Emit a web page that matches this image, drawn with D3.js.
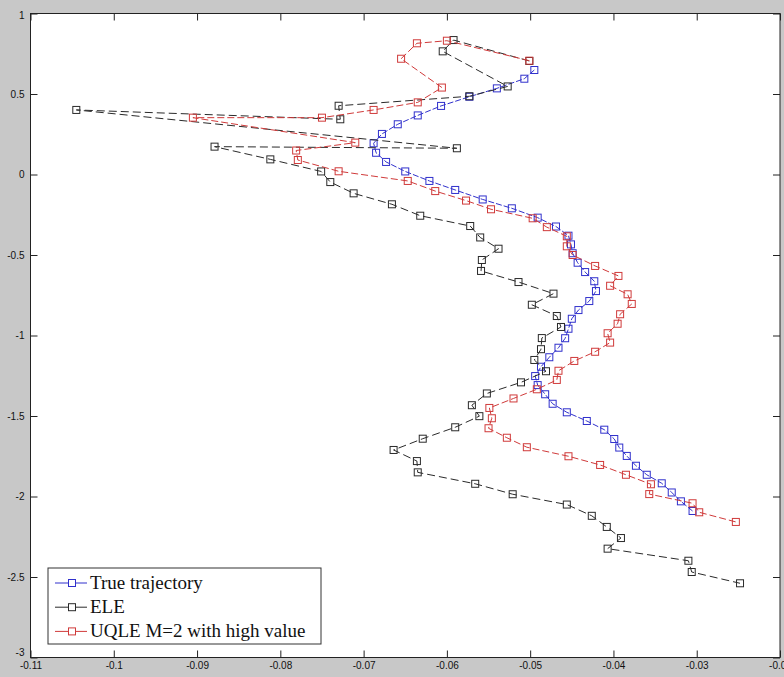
<!DOCTYPE html>
<html>
<head>
<meta charset="utf-8">
<script src="https://cdn.jsdelivr.net/npm/d3@7/dist/d3.min.js"></script>
<style>
  html, body { margin: 0; padding: 0; background: #c8c8c8; }
  svg { display: block; }
</style>
</head>
<body>
<svg id="chart" width="784" height="677"></svg>
<script>
// Axis ticks
const xTicks = [-0.11, -0.1, -0.09, -0.08, -0.07, -0.06, -0.05, -0.04, -0.03, -0.02];
const yTicks = [-3, -2.5, -2, -1.5, -1, -0.5, 0, 0.5, 1];

// Series names (legend order)
const seriesNames = ["True trajectory", "ELE", "UQLE M=2 with high value"];

// True trajectory
const trueX = [-0.0495, -0.0507, -0.0540, -0.0573, -0.0607, -0.0635, -0.0659, -0.0678, -0.0688, -0.0685,
  -0.0673, -0.0650, -0.0621, -0.0590, -0.0557, -0.0522, -0.0491, -0.0469, -0.0454, -0.0451,
  -0.0449, -0.0443, -0.0434, -0.0423, -0.0421, -0.0429, -0.0442, -0.0450, -0.0454, -0.0458,
  -0.0466, -0.0477, -0.0487, -0.0494, -0.0491, -0.0482, -0.0473, -0.0456, -0.0432, -0.0411,
  -0.0399, -0.0393, -0.0384, -0.0373, -0.0360, -0.0342, -0.0330, -0.0319, -0.0305];
const trueY = [0.649, 0.595, 0.535, 0.483, 0.426, 0.367, 0.312, 0.252, 0.194, 0.135,
  0.078, 0.019, -0.040, -0.096, -0.155, -0.210, -0.268, -0.323, -0.380, -0.434,
  -0.489, -0.548, -0.606, -0.663, -0.724, -0.786, -0.842, -0.896, -0.958, -1.017,
  -1.076, -1.135, -1.194, -1.252, -1.308, -1.365, -1.424, -1.477, -1.531, -1.585,
  -1.643, -1.696, -1.748, -1.809, -1.865, -1.918, -1.975, -2.030, -2.090];

// ELE estimate
const eleX = [-0.0501, -0.0592, -0.0605, -0.0527, -0.0573, -0.0730, -0.0728, -0.1045, -0.0588, -0.0879,
  -0.0812, -0.0751, -0.0740, -0.0712, -0.0666, -0.0632, -0.0572, -0.0560, -0.0538, -0.0558,
  -0.0559, -0.0514, -0.0472, -0.0498, -0.0468, -0.0463, -0.0486, -0.0487, -0.0495, -0.0481,
  -0.0511, -0.0552, -0.0570, -0.0561, -0.0590, -0.0629, -0.0664, -0.0636, -0.0635, -0.0566,
  -0.0521, -0.0456, -0.0426, -0.0408, -0.0391, -0.0407, -0.0310, -0.0306, -0.0248];
const eleY = [0.705, 0.835, 0.765, 0.547, 0.486, 0.427, 0.343, 0.401, 0.163, 0.173,
  0.094, 0.019, -0.047, -0.117, -0.185, -0.256, -0.320, -0.391, -0.461, -0.531,
  -0.599, -0.668, -0.740, -0.809, -0.879, -0.947, -1.016, -1.085, -1.152, -1.222,
  -1.291, -1.360, -1.433, -1.501, -1.570, -1.641, -1.711, -1.780, -1.850, -1.921,
  -1.986, -2.050, -2.120, -2.189, -2.258, -2.324, -2.399, -2.469, -2.539];

// UQLE M=2 estimate
const uqleX = [-0.0501, -0.0600, -0.0636, -0.0655, -0.0606, -0.0635, -0.0688, -0.0750, -0.0905, -0.0710,
  -0.0781, -0.0779, -0.0730, -0.0647, -0.0614, -0.0577, -0.0547, -0.0497, -0.0480, -0.0456,
  -0.0456, -0.0449, -0.0422, -0.0394, -0.0404, -0.0383, -0.0378, -0.0392, -0.0395, -0.0407,
  -0.0404, -0.0422, -0.0447, -0.0466, -0.0468, -0.0492, -0.0520, -0.0549, -0.0546, -0.0550,
  -0.0528, -0.0504, -0.0454, -0.0416, -0.0385, -0.0355, -0.0357, -0.0305, -0.0297, -0.0253];
const uqleY = [0.707, 0.831, 0.815, 0.719, 0.540, 0.448, 0.401, 0.353, 0.353, 0.198,
  0.149, 0.090, 0.020, -0.040, -0.103, -0.162, -0.216, -0.272, -0.327, -0.384,
  -0.446, -0.500, -0.568, -0.630, -0.691, -0.744, -0.804, -0.868, -0.927, -0.986,
  -1.044, -1.101, -1.158, -1.219, -1.276, -1.334, -1.391, -1.450, -1.514, -1.576,
  -1.635, -1.694, -1.750, -1.804, -1.865, -1.924, -1.985, -2.042, -2.098, -2.158];

const W = 784, H = 677;
const plot = { left: 30.5, right: 780, top: 13.5, bottom: 657.5 };

const svg = d3.select("#chart");

const x = d3.scaleLinear().domain([-0.11, -0.02]).range([plot.left, plot.right]);
const y = d3.scaleLinear().domain([-3, 1]).range([plot.bottom, plot.top]);

// figure background and white axes area
svg.append("rect").attr("width", W).attr("height", H).attr("fill", "#c8c8c8");
svg.append("rect")
  .attr("x", plot.left).attr("y", plot.top)
  .attr("width", plot.right - plot.left).attr("height", plot.bottom - plot.top)
  .attr("fill", "#ffffff");

const fmt = d => String(+d.toFixed(2));
const tickLen = 7;

function styleAxis(g) {
  g.select(".domain").remove();
  g.selectAll(".tick line").attr("stroke", "#222").attr("stroke-width", 1);
  g.selectAll(".tick text")
    .attr("fill", "#111")
    .style("font-family", "'Liberation Sans', Arial, sans-serif")
    .style("font-size", "10px");
}

// bottom axis with labels, ticks pointing inward
svg.append("g")
  .attr("transform", `translate(0,${plot.bottom})`)
  .call(d3.axisBottom(x).tickValues(xTicks).tickFormat(fmt)
    .tickSizeInner(-tickLen).tickSizeOuter(0).tickPadding(4))
  .call(styleAxis);

// top axis: ticks only
svg.append("g")
  .attr("transform", `translate(0,${plot.top})`)
  .call(d3.axisTop(x).tickValues(xTicks).tickFormat("")
    .tickSizeInner(-tickLen).tickSizeOuter(0))
  .call(styleAxis);

// left axis with labels; the lowest label sits a little higher so it clears the x labels
svg.append("g")
  .attr("transform", `translate(${plot.left},0)`)
  .call(d3.axisLeft(y).tickValues(yTicks).tickFormat(fmt)
    .tickSizeInner(-tickLen).tickSizeOuter(0).tickPadding(6))
  .call(styleAxis)
  .call(g => g.selectAll(".tick text")
    .filter(d => d === yTicks[0])
    .attr("y", -5))
  .call(g => g.selectAll(".tick text")
    .filter(d => d === yTicks[yTicks.length - 1])
    .attr("y", 2));

// right axis: ticks only
svg.append("g")
  .attr("transform", `translate(${plot.right},0)`)
  .call(d3.axisRight(y).tickValues(yTicks).tickFormat("")
    .tickSizeInner(-tickLen).tickSizeOuter(0))
  .call(styleAxis);

// axes box
svg.append("rect")
  .attr("x", plot.left).attr("y", plot.top)
  .attr("width", plot.right - plot.left).attr("height", plot.bottom - plot.top)
  .attr("fill", "none").attr("stroke", "#222").attr("stroke-width", 1);

const series = [
  { name: seriesNames[0], xs: trueX, ys: trueY, color: "#3030cc", dash: "6,2" },
  { name: seriesNames[1], xs: eleX,  ys: eleY,  color: "#2a2a2a", dash: "8,4" },
  { name: seriesNames[2], xs: uqleX, ys: uqleY, color: "#d03a3a", dash: "7,3" }
];

const line = d3.line().x(d => x(d[0])).y(d => y(d[1]));
const mk = 7;

const gData = svg.append("g");
series.forEach(s => {
  const pts = s.xs.map((v, i) => [v, s.ys[i]]);
  const g = gData.append("g");
  g.append("path")
    .datum(pts)
    .attr("d", line)
    .attr("fill", "none")
    .attr("stroke", s.color)
    .attr("stroke-width", 1)
    .attr("stroke-dasharray", s.dash);
  g.selectAll("rect.m")
    .data(pts)
    .join("rect")
    .attr("class", "m")
    .attr("x", d => x(d[0]) - mk / 2)
    .attr("y", d => y(d[1]) - mk / 2)
    .attr("width", mk).attr("height", mk)
    .attr("fill", "none")
    .attr("stroke", s.color)
    .attr("stroke-width", 1);
});

// legend
const lg = svg.append("g").attr("transform", "translate(48,568)");
lg.append("rect")
  .attr("width", 273).attr("height", 76)
  .attr("fill", "#ffffff").attr("stroke", "#333").attr("stroke-width", 1);

series.forEach((s, i) => {
  const cy = 15 + i * 24.2;
  const row = lg.append("g").attr("transform", `translate(0,${cy})`);
  row.append("line")
    .attr("x1", 7).attr("x2", 39).attr("y1", 0).attr("y2", 0)
    .attr("stroke", s.color).attr("stroke-width", 1);
  row.append("rect")
    .attr("x", 24 - mk / 2).attr("y", -mk / 2)
    .attr("width", mk).attr("height", mk)
    .attr("fill", "#ffffff").attr("stroke", s.color).attr("stroke-width", 1);
  row.append("text")
    .attr("x", 42).attr("y", 6)
    .attr("fill", "#111")
    .style("font-family", "'Liberation Serif', 'Times New Roman', serif")
    .style("font-size", "19px")
    .text(s.name);
});
</script>
</body>
</html>
